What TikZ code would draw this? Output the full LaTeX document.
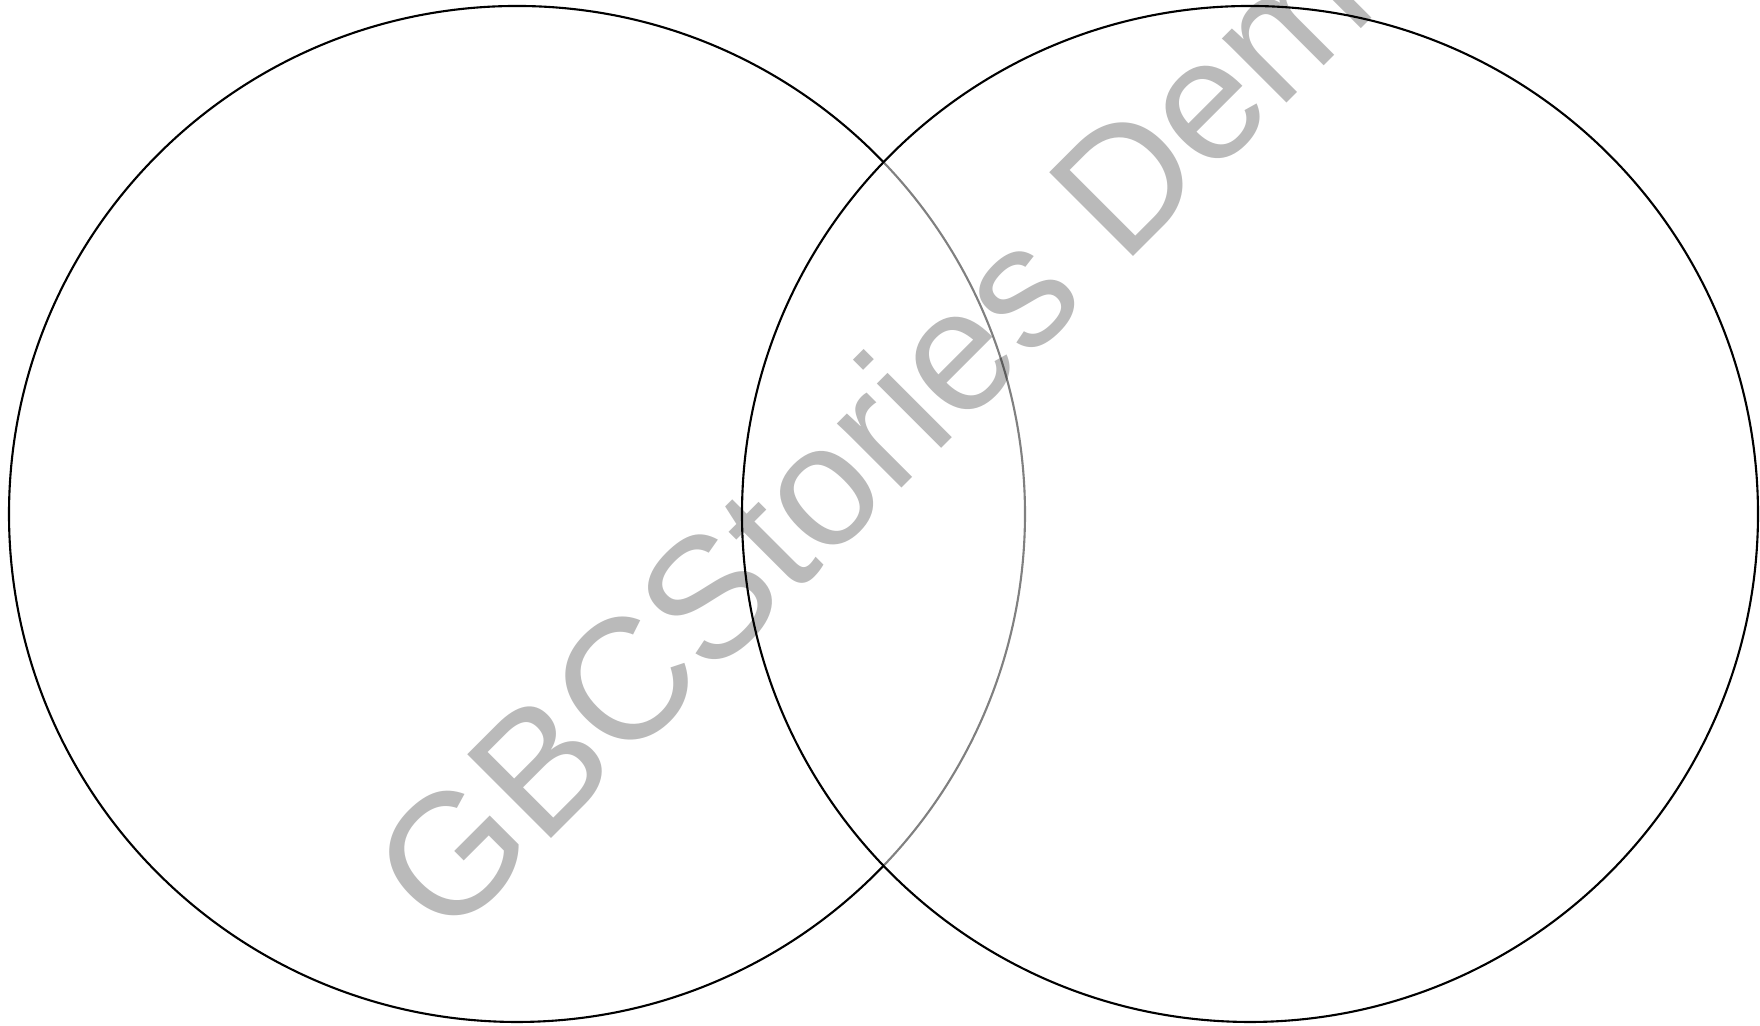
\documentclass[tikz,border=0pt]{standalone}
\usepackage{fontspec}
\newfontfamily\markfont{Liberation Sans}
\usepackage{tikz}
\usetikzlibrary{positioning}

\begin{document}
\begin{tikzpicture}[
  setcircle/.style={draw=black, line width=0.6pt, circle, minimum size=10.16cm, inner sep=0pt},
  watermark/.style={text=black, text opacity=0.27, rotate=45, anchor=base west, inner sep=0pt,
    font=\markfont\fontsize{49}{49}\selectfont}
]
  \useasboundingbox (0,0) rectangle (17.6,10.26);
  \clip (0,0) rectangle (17.6,10.26);

  % two sets
  \node[setcircle] (setA) at (5.17,5.12) {};
  \node[setcircle, fill=white, fill opacity=0.5] (setB) at (12.50,5.12) {};

  % watermark
  \node[watermark] (mark) at (4.46,0.82) {GBCStories Demo};
\end{tikzpicture}
\end{document}
